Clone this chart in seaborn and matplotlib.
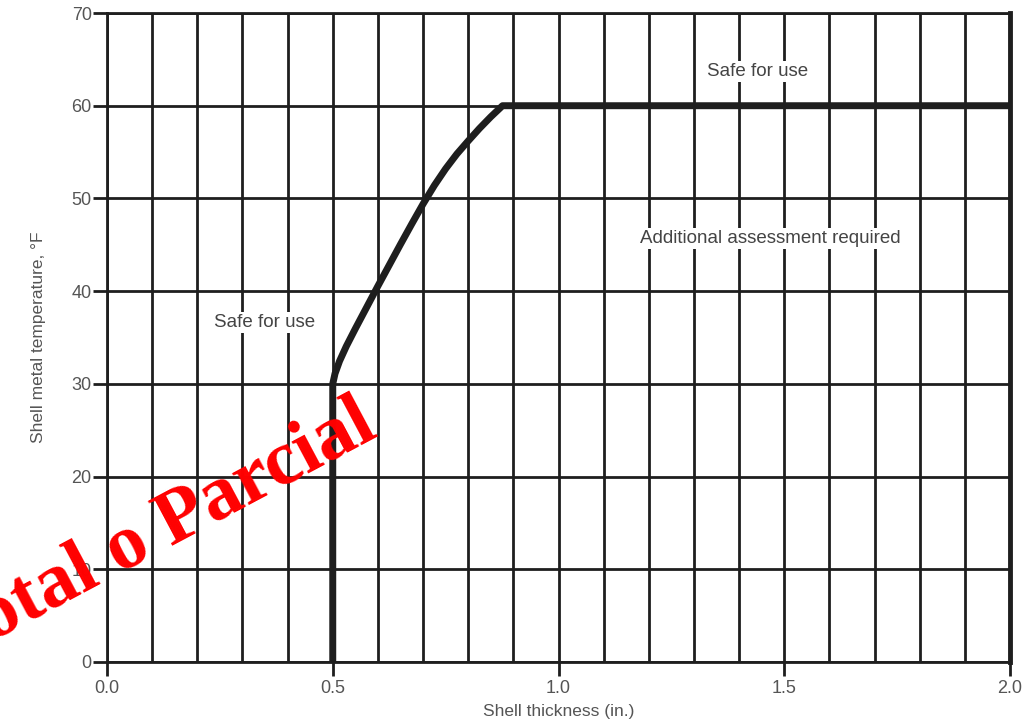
import numpy as np
import pandas as pd
import matplotlib
matplotlib.use("Agg")
import matplotlib.pyplot as plt
from matplotlib.ticker import MultipleLocator
import seaborn as sb

# curve: shell thickness (in.) vs shell metal temperature (F)
thickness = [0.5, 0.5, 0.505, 0.515, 0.53, 0.55, 0.575, 0.6, 0.625, 0.65, 0.675,
             0.7, 0.725, 0.75, 0.775, 0.8, 0.825, 0.85, 0.876, 2.0]
temperature = [0, 30, 31.1, 32.45, 34.05, 35.95, 38.25, 40.55, 42.8, 45.05, 47.25,
               49.4, 51.4, 53.2, 54.8, 56.2, 57.55, 58.8, 60, 60]

region_labels = ["Safe for use", "Additional assessment required", "Safe for use"]
label_x = [1.44, 1.47, 0.35]
label_y = [63.7, 45.7, 36.6]

x_ticks = [0.0, 0.5, 1.0, 1.5, 2.0]
y_ticks = [0, 10, 20, 30, 40, 50, 60, 70]

sb.set_style("white")
plt.rcParams['font.family'] = ['Liberation Sans', 'DejaVu Sans']

fig = plt.figure(figsize=(10.31, 7.26), dpi=100)
ax = fig.add_axes([107/1031, 64/726, 903/1031, 649/726])

df = pd.DataFrame({'thickness': thickness, 'temperature': temperature})
sb.lineplot(data=df, x='thickness', y='temperature', sort=False, estimator=None,
            color='#1e1e1e', linewidth=5, ax=ax, zorder=3)

ax.set_xlim(0, 2.0)
ax.set_ylim(0, 70)
ax.xaxis.set_minor_locator(MultipleLocator(0.1))
ax.set_xticks(x_ticks)
ax.set_yticks(y_ticks)
ax.set_xticklabels([f"{v:.1f}" for v in x_ticks])
ax.grid(which='both', axis='x', color='#1e1e1e', linewidth=2)
ax.grid(which='major', axis='y', color='#1e1e1e', linewidth=2)
ax.tick_params(axis='both', which='major', length=10, width=2, color='#1e1e1e',
               labelsize=13, labelcolor='#555555', pad=3, direction='out')
ax.tick_params(axis='y', pad=1)
ax.tick_params(axis='both', which='minor', length=0)
ax.tick_params(axis='x', bottom=True)
ax.tick_params(axis='y', left=True)

for side in ['left', 'bottom', 'top']:
    ax.spines[side].set_color('#1e1e1e')
    ax.spines[side].set_linewidth(2)
ax.spines['right'].set_color('#1e1e1e')
ax.spines['right'].set_linewidth(3.5)

ax.set_xlabel('Shell thickness (in.)', fontsize=12.5, color='#555555', labelpad=5)
ax.set_ylabel('Shell metal temperature, °F', fontsize=12.5, color='#555555', labelpad=18)

for txt, tx, ty in zip(region_labels, label_x, label_y):
    ax.text(tx, ty, txt, ha='center', va='center', fontsize=13.5, color='#444444',
            zorder=4, bbox=dict(facecolor='white', edgecolor='none', pad=1.5))

# watermark, partly cut off at the left edge like the original
fig.text(-48/1031, 1 - 663/726, 'Total o Parcial', fontsize=56, fontweight='bold',
         family='Liberation Serif', color='#ff0000', rotation=28,
         rotation_mode='anchor', ha='left', va='baseline', zorder=10)

fig.savefig('out.png', dpi=100)
